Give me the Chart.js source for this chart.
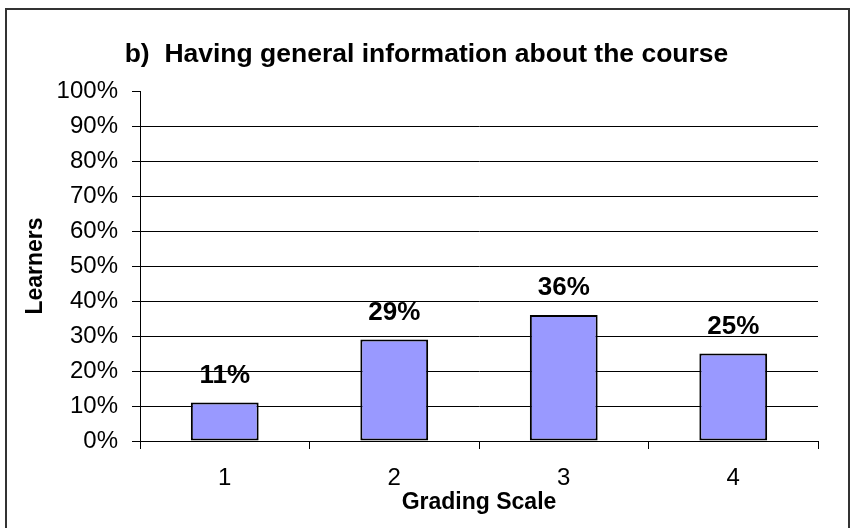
<!DOCTYPE html>
<html>
<head>
<meta charset="utf-8">
<script src="https://cdn.jsdelivr.net/npm/chart.js@4.4.0/dist/chart.umd.min.js"></script>
<style>
body { margin: 0; background: #fff; }
#wrap { position: relative; width: 853px; height: 528px; overflow: hidden; }
#frame { position: absolute; left: 5px; top: 8px; width: 845px; height: 540px; border: 2px solid #333; box-sizing: border-box; pointer-events: none; }
canvas { position: absolute; left: 0; top: 0; }
</style>
</head>
<body>
<div id="wrap">
  <canvas id="myChart" width="853" height="528"></canvas>
  <div id="frame"></div>
</div>
<script>
// data
const chartTitle = 'b)  Having general information about the course'
const grades = ['1', '2', '3', '4']
const learners = [11, 29, 36, 25]
const yMin = 0
const yMax = 100
const yStep = 10

const FONT = "'Liberation Sans', Arial, sans-serif"

// title over the whole frame + value labels above the bars
const labelsPlugin = {
    id: 'labelsPlugin',
    afterDraw(chart) {
        const ctx = chart.ctx
        ctx.save()
        ctx.fillStyle = '#000'
        ctx.textAlign = 'center'
        ctx.textBaseline = 'middle'
        ctx.font = 'bold 26.5px ' + FONT
        ctx.fillText(chartTitle, chart.width / 2, 55)

        ctx.font = 'bold 26px ' + FONT
        chart.getDatasetMeta(0).data.forEach((bar, i) => {
            ctx.fillText(learners[i] + '%', bar.x, bar.y - 27)
        })
        ctx.restore()
    }
}

const ctx = document.getElementById('myChart')
let myChart = new Chart(ctx, {
    type: 'bar',
    data: {
        labels: grades,
        datasets: [{
            label: 'Learners',
            data: learners,
            backgroundColor: '#9999FF',
            borderColor: '#000',
            borderWidth: 2,
            borderSkipped: false,
            barPercentage: 1,
            categoryPercentage: 0.4
        }]
    },
    options: {
        responsive: false,
        animation: false,
        layout: { padding: { top: 91, right: 35, bottom: 0, left: 0 } },
        plugins: {
            legend: { display: false },
            tooltip: { enabled: false }
        },
        scales: {
            x: {
                afterFit: (scale) => { scale.height = 87 },
                grid: { display: true, offset: true, drawOnChartArea: false, color: '#000', tickLength: 8 },
                border: { color: '#000', width: 1 },
                ticks: { color: '#000', padding: 15, font: { family: FONT, size: 24 } },
                title: {
                    display: true,
                    text: 'Grading Scale',
                    color: '#000',
                    font: { family: FONT, size: 23, weight: 'bold' },
                    padding: { top: 0, bottom: 12 }
                }
            },
            y: {
                min: yMin,
                max: yMax,
                afterFit: (scale) => { scale.width = 140 },
                grid: {
                    color: (c) => (c.tick && c.tick.value === yMax) ? 'rgba(0,0,0,0)' : '#000',
                    tickColor: '#000',
                    tickLength: 8
                },
                border: { color: '#000', width: 1 },
                ticks: {
                    stepSize: yStep,
                    color: '#000',
                    padding: 14,
                    font: { family: FONT, size: 24 },
                    callback: (v) => v + '%'
                },
                title: {
                    display: true,
                    text: 'Learners',
                    color: '#000',
                    font: { family: FONT, size: 23, weight: 'bold' },
                    padding: { top: 22, bottom: 0 }
                }
            }
        }
    },
    plugins: [labelsPlugin]
})
</script>
</body>
</html>
